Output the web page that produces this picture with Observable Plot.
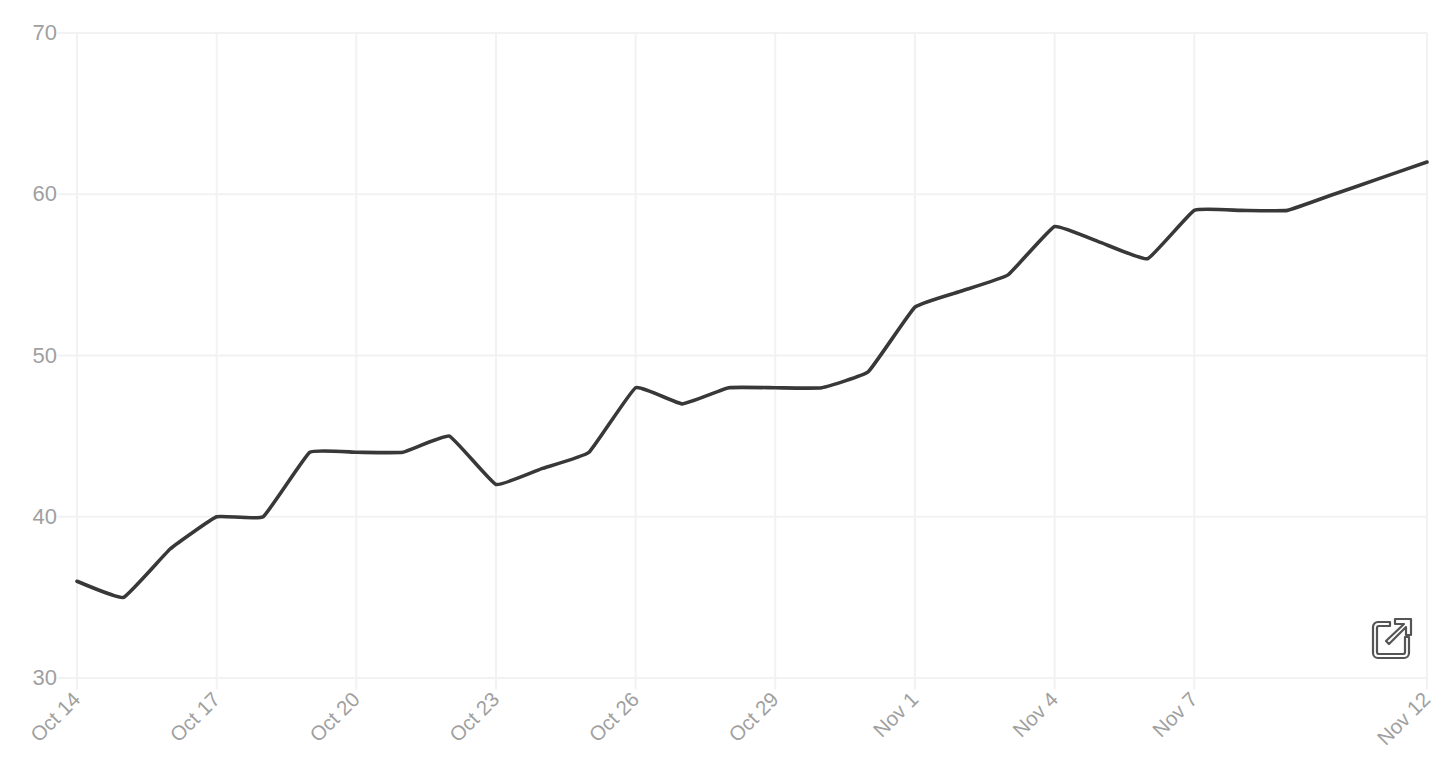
<!DOCTYPE html>
<html>
<head>
<meta charset="utf-8">
<script src="https://cdn.jsdelivr.net/npm/d3@7"></script>
<script src="https://cdn.jsdelivr.net/npm/@observablehq/plot@0.6"></script>
<style>
html,body{margin:0;padding:0;background:#fff;overflow:hidden}
#wrap{position:relative;width:1456px;height:775px}
#wrap svg.plot{display:block}
#icon{position:absolute;left:1371px;top:616px}
</style>
</head>
<body>
<div id="wrap"></div>
<script>
const days = ["2023-10-14","2023-10-15","2023-10-16","2023-10-17","2023-10-18","2023-10-19","2023-10-20","2023-10-21","2023-10-22","2023-10-23","2023-10-24","2023-10-25","2023-10-26","2023-10-27","2023-10-28","2023-10-29","2023-10-30","2023-10-31","2023-11-01","2023-11-02","2023-11-03","2023-11-04","2023-11-05","2023-11-06","2023-11-07","2023-11-08","2023-11-09","2023-11-10","2023-11-11","2023-11-12"];
const values = [36,35,38,40,40,44,44,44,45,42,43,44,48,47,48,48,48,49,53,54,55,58,57,56,59,59,59,60,61,62];
const xTicks = ["2023-10-14","2023-10-17","2023-10-20","2023-10-23","2023-10-26","2023-10-29","2023-11-01","2023-11-04","2023-11-07","2023-11-12"];
const yTicks = [30,40,50,60,70];

const rows = days.map((d,i)=>({date:new Date(d),value:values[i]}));
const xt = xTicks.map(d=>new Date(d));
const gridColor = "#f2f2f2", textColor = "#a0a0a0";
const fmt = d3.utcFormat("%b %-d");

const chart = Plot.plot({
  width:1456, height:775,
  marginLeft:76.5, marginRight:29.5, marginTop:32.5, marginBottom:97.5,
  style:{fontFamily:"'Liberation Sans',Arial,sans-serif",background:"#fff"},
  x:{type:"utc",domain:[new Date(days[0]),new Date(days[days.length-1])]},
  y:{domain:[30,70]},
  marks:[
    Plot.ruleX(xt,{stroke:gridColor,strokeWidth:2,insetBottom:-12}),
    Plot.ruleY(yTicks,{stroke:gridColor,strokeWidth:2,insetLeft:-19}),
    Plot.axisY(yTicks,{tickSize:0,tickPadding:20,fontSize:22,color:textColor,label:null}),
    Plot.axisX(xt,{tickSize:0,tickPadding:18,tickRotate:-45,tickFormat:fmt,fontSize:20.5,color:textColor,label:null}),
    Plot.line(rows,{x:"date",y:"value",stroke:"#383838",strokeWidth:3.6,curve:"cardinal",tension:0.7})
  ]
});
const wrap=document.getElementById("wrap");
wrap.appendChild(chart);
wrap.insertAdjacentHTML("beforeend",`<svg id="icon" width="42" height="44" viewBox="0 0 42 44" fill="none" stroke="#555" stroke-width="2.2" stroke-linecap="round" stroke-linejoin="round">
<path d="M19 6H7a5 5 0 0 0-5 5v26a5 5 0 0 0 5 5h26a5 5 0 0 0 5-5V21h-4v15a2 2 0 0 1-2 2H8a2 2 0 0 1-2-2V12a2 2 0 0 1 2-2H19z"/>
<path d="M15 25L33 8H24V3H40V19H35V11L18 28z"/></svg>`);
</script>
</body>
</html>
